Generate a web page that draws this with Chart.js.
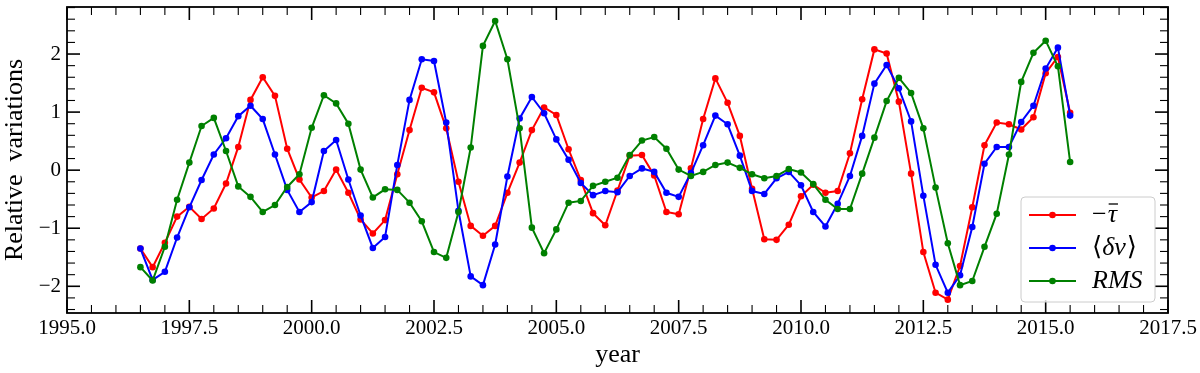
<!DOCTYPE html>
<html><head><meta charset="utf-8">
<script src="https://cdn.jsdelivr.net/npm/chart.js@4"></script>
<style>html,body{margin:0;padding:0;background:#fff}#wrap{width:1200px;height:373px;position:relative}</style>
</head><body><div id="wrap"><canvas id="c"></canvas></div>
<script>
const years = [1996.5,1996.75,1997,1997.25,1997.5,1997.75,1998,1998.25,1998.5,1998.75,
1999,1999.25,1999.5,1999.75,2000,2000.25,2000.5,2000.75,2001,2001.25,
2001.5,2001.75,2002,2002.25,2002.5,2002.75,2003,2003.25,2003.5,2003.75,
2004,2004.25,2004.5,2004.75,2005,2005.25,2005.5,2005.75,2006,2006.25,
2006.5,2006.75,2007,2007.25,2007.5,2007.75,2008,2008.25,2008.5,2008.75,
2009,2009.25,2009.5,2009.75,2010,2010.25,2010.5,2010.75,2011,2011.25,
2011.5,2011.75,2012,2012.25,2012.5,2012.75,2013,2013.25,2013.5,2013.75,
2014,2014.25,2014.5,2014.75,2015,2015.25,2015.5];

const tauNeg = [-1.35,-1.67,-1.25,-0.80,-0.63,-0.84,-0.66,-0.23,0.40,1.21,1.60,1.28,0.37,-0.16,
-0.47,-0.36,0.01,-0.39,-0.85,-1.09,-0.86,-0.07,0.69,1.42,1.34,0.72,-0.20,
-0.96,-1.13,-0.96,-0.39,0.13,0.69,1.08,0.95,0.36,-0.17,-0.74,-0.95,
-0.35,0.25,0.26,-0.09,-0.72,-0.76,0.03,0.88,1.58,1.16,0.59,-0.32,-1.19,-1.20,
-0.94,-0.45,-0.25,-0.39,-0.36,0.29,1.22,2.08,2.01,1.18,-0.06,-1.41,-2.11,
-2.23,-1.65,-0.64,0.43,0.82,0.79,0.70,0.91,1.67,1.95,0.99];

const deltaNu = [-1.35,-1.89,-1.75,-1.16,-0.64,-0.17,0.27,0.55,0.93,1.11,0.88,0.27,-0.34,-0.72,
-0.55,0.33,0.52,-0.16,-0.78,-1.34,-1.15,0.09,1.21,1.91,1.88,0.82,-0.70,
-1.83,-1.98,-1.28,-0.11,0.89,1.26,0.98,0.53,0.18,-0.22,-0.43,-0.36,
-0.38,-0.10,0.03,-0.03,-0.39,-0.46,-0.05,0.43,0.94,0.79,0.25,-0.36,-0.41,-0.14,
-0.03,-0.26,-0.72,-0.97,-0.58,-0.10,0.59,1.49,1.81,1.41,0.84,-0.44,-1.63,
-2.11,-1.81,-0.98,0.11,0.40,0.40,0.83,1.11,1.75,2.11,0.94];

const rms = [-1.67,-1.90,-1.32,-0.51,0.13,0.76,0.90,0.33,-0.28,-0.46,-0.72,-0.60,-0.29,-0.07,
0.73,1.29,1.15,0.80,0.01,-0.47,-0.33,-0.34,-0.56,-0.88,-1.41,-1.51,-0.72,
0.39,2.14,2.57,1.91,0.72,-0.99,-1.43,-1.02,-0.56,-0.53,-0.27,-0.20,
-0.13,0.26,0.51,0.57,0.37,0.01,-0.10,-0.03,0.09,0.13,0.04,-0.07,-0.14,-0.10,
0.02,-0.04,-0.24,-0.51,-0.67,-0.67,-0.06,0.56,1.19,1.59,1.33,0.72,-0.30,
-1.26,-1.98,-1.91,-1.32,-0.75,0.27,1.52,2.02,2.23,1.79,0.14];

const xRange = [1995, 2017.5];
const yRange = [-2.46, 2.81];
const xMajorStep = 2.5, xMinorStep = 0.5;
const yMajorStep = 1, yMinorStep = 0.2;

const SERIF = '"Liberation Serif", "DejaVu Serif", serif';
const colors = {tau:'#ff0000', dnu:'#0000ff', rms:'#008000'};

function mk(label, vals, color, order){
  return {label, data: years.map((x,i)=>({x, y: vals[i]})), borderColor: color, backgroundColor: color,
    borderWidth: 2, pointRadius: 3.3, pointHoverRadius: 3.3, pointBorderWidth: 0, pointBackgroundColor: color,
    tension: 0, order};
}

const fmt = v => v < 0 ? '\u2212' + Math.abs(v) : String(v);

const decor = {
  id: 'decor',
  afterDraw(chart){
    const {ctx, chartArea: a, scales: {x, y}} = chart;
    ctx.save();
    ctx.strokeStyle = '#000';
    const line = (x1,y1,x2,y2)=>{ctx.beginPath();ctx.moveTo(x1,y1);ctx.lineTo(x2,y2);ctx.stroke();};
    const nx = Math.round((xRange[1]-xRange[0])/xMinorStep);
    for (let k=0;k<=nx;k++){
      const v = xRange[0] + k*xMinorStep;
      const major = Math.abs(v/xMajorStep - Math.round(v/xMajorStep)) < 1e-6;
      const L = major ? 13 : 8;
      ctx.lineWidth = major ? 1.6 : 1.1;
      const px = x.getPixelForValue(v);
      line(px, a.bottom, px, a.bottom - L);
      line(px, a.top, px, a.top + L);
    }
    const k0 = Math.ceil(yRange[0]/yMinorStep), k1 = Math.floor(yRange[1]/yMinorStep);
    for (let k=k0;k<=k1;k++){
      const v = k*yMinorStep;
      const major = Math.abs(v/yMajorStep - Math.round(v/yMajorStep)) < 1e-6;
      const L = major ? 13 : 8;
      ctx.lineWidth = major ? 1.6 : 1.1;
      const py = y.getPixelForValue(v);
      line(a.left, py, a.left + L, py);
      line(a.right, py, a.right - L, py);
    }
    ctx.lineWidth = 1.8;
    ctx.strokeRect(a.left, a.top, a.right - a.left, a.bottom - a.top);

    // legend
    const bx = 1021, by = 197, bw = 134, bh = 105, r = 4;
    ctx.beginPath();
    ctx.moveTo(bx+r,by); ctx.lineTo(bx+bw-r,by); ctx.arcTo(bx+bw,by,bx+bw,by+r,r);
    ctx.lineTo(bx+bw,by+bh-r); ctx.arcTo(bx+bw,by+bh,bx+bw-r,by+bh,r);
    ctx.lineTo(bx+r,by+bh); ctx.arcTo(bx,by+bh,bx,by+bh-r,r);
    ctx.lineTo(bx,by+r); ctx.arcTo(bx,by,bx+r,by,r); ctx.closePath();
    ctx.fillStyle = 'rgba(255,255,255,0.8)'; ctx.fill();
    ctx.strokeStyle = '#cccccc'; ctx.lineWidth = 1; ctx.stroke();
    const rows = [[colors.tau, 215], [colors.dnu, 248], [colors.rms, 281]];
    rows.forEach(([c, ry])=>{
      ctx.strokeStyle = c; ctx.fillStyle = c; ctx.lineWidth = 2;
      line(1029, ry, 1076, ry);
      ctx.beginPath(); ctx.arc(1052.5, ry, 3.3, 0, Math.PI*2); ctx.fill();
    });
    ctx.fillStyle = '#000'; ctx.textBaseline = 'middle'; ctx.textAlign = 'left';
    ctx.font = '26px ' + SERIF;
    ctx.fillText('\u2212', 1092, 215);
    const mw = ctx.measureText('\u2212').width;
    ctx.font = 'italic 26px ' + SERIF;
    ctx.fillText('\u03C4', 1092 + mw + 1, 215);
    const tw = ctx.measureText('\u03C4').width;
    ctx.strokeStyle = '#000'; ctx.lineWidth = 1.3;
    line(1092 + mw + 2, 204, 1092 + mw + 1 + tw + 1, 204);
    ctx.font = '26px ' + SERIF;
    ctx.fillText('\u27E8', 1092, 248);
    const lw = ctx.measureText('\u27E8').width;
    ctx.font = 'italic 26px ' + SERIF;
    ctx.fillText('\u03B4\u03BD', 1092 + lw, 248);
    const dw = ctx.measureText('\u03B4\u03BD').width;
    ctx.font = '26px ' + SERIF;
    ctx.fillText('\u27E9', 1092 + lw + dw + 1, 248);
    ctx.font = 'italic 26px ' + SERIF;
    ctx.fillText('RMS', 1092, 281);
    ctx.restore();
  }
};

new Chart(document.getElementById('c'), {
  type: 'line',
  data: { datasets: [
    mk('\u2212\u03C4\u0305', tauNeg, colors.tau, 3),
    mk('\u27E8\u03B4\u03BD\u27E9', deltaNu, colors.dnu, 2),
    mk('RMS', rms, colors.rms, 1)
  ]},
  options: {
    responsive: true, maintainAspectRatio: false, animation: false,
    layout: { padding: { top: 7, right: 32, left: 0, bottom: 0 } },
    plugins: { legend: { display: false }, tooltip: { enabled: false } },
    scales: {
      x: {
        type: 'linear', min: xRange[0], max: xRange[1],
        grid: { display: false, drawTicks: false },
        border: { display: false },
        ticks: { stepSize: xMajorStep, includeBounds: false, padding: 3, color: '#000',
          font: { family: SERIF, size: 21 }, maxRotation: 0, autoSkip: false,
          callback: v => v.toFixed(1) },
        title: { display: true, text: 'year', color: '#000', font: { family: SERIF, size: 26 }, padding: { top: 0, bottom: 2 } },
        afterFit: s => { s.height = 60; s.paddingLeft = 0; s.paddingRight = 0; }
      },
      y: {
        type: 'linear', min: yRange[0], max: yRange[1],
        grid: { display: false, drawTicks: false },
        border: { display: false },
        ticks: { stepSize: yMajorStep, includeBounds: false, padding: 6, color: '#000',
          font: { family: SERIF, size: 21 }, autoSkip: false, callback: v => fmt(v) },
        title: { display: true, text: 'Relative  variations', color: '#000', font: { family: SERIF, size: 26 }, padding: { top: 0, bottom: 0 } },
        afterFit: s => { s.width = 67; s.paddingTop = 0; s.paddingBottom = 0; }
      }
    }
  },
  plugins: [decor]
});
</script>
</body></html>
